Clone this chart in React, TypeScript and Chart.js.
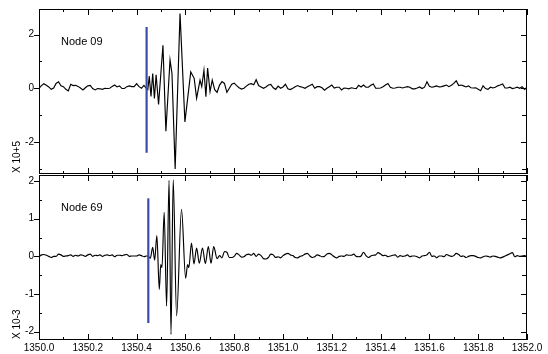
import React, { useEffect, useRef } from "react";
import { Chart, registerables } from "chart.js";

Chart.register(...registerables);

// ---------- axis definitions ----------
const X_MIN = 1350.0;
const X_MAX = 1352.0;
const xMajorTicks = [1350.0, 1350.2, 1350.4, 1350.6, 1350.8, 1351.0, 1351.2, 1351.4, 1351.6, 1351.8, 1352.0];
const xMajorLabels = ["1350.0", "1350.2", "1350.4", "1350.6", "1350.8", "1351.0", "1351.2", "1351.4", "1351.6", "1351.8", "1352.0"];
const xMinorTicks = [1350.1, 1350.3, 1350.5, 1350.7, 1350.9, 1351.1, 1351.3, 1351.5, 1351.7, 1351.9];

const TOP_Y_MIN = -3.19;
const TOP_Y_MAX = 2.95;
const topYMajor = [-2, 0, 2];
const topYMajorLabels = ["-2", "0", "2"];
const topYMinor = [-3, -1, 1];

const BOT_Y_MIN = -2.22;
const BOT_Y_MAX = 2.16;
const botYMajor = [-2, -1, 0, 1, 2];
const botYMajorLabels = ["-2", "-1", "0", "1", "2"];
const botYMinor = [-1.5, -0.5, 0.5, 1.5];

const topTitle = "Node 09";
const botTitle = "Node 69";
const topUnit = "X 10+5";
const botUnit = "X 10-3";

// ---------- data: Node 09 (top) ----------
const NOISE_STEP = 0.01;
const TOP_PRE_START = 1350.0;
const topPreNoise = [0, 0.10, 0.17, 0.11, 0.05, -0.04, 0.01, 0.18, 0.24, 0.09, 0.06, -0.04, -0.10, 0.15, 0.10, 0.11, 0.07, 0.01, -0.06, 0.02, 0.09, 0.11, -0.01, -0.06, -0.01, -0.02, -0.04, 0, -0.01, 0, 0.07, 0.12, 0.05, 0.09, -0.01, -0.01, 0.06, 0.09, 0.06, 0.06, 0.17, 0.06, 0, 0.11, 0];
const topBurstTimes = [1350.446, 1350.452, 1350.459, 1350.466, 1350.473, 1350.480, 1350.490, 1350.508, 1350.520, 1350.537, 1350.545, 1350.558, 1350.578, 1350.598, 1350.622, 1350.636, 1350.646, 1350.660, 1350.667, 1350.676, 1350.684, 1350.691, 1350.701, 1350.710];
const topBurstValues = [-0.05, 0.45, -0.30, 0.55, -0.38, 0.50, -0.60, 1.60, -1.60, 1.05, 0.55, -3.0, 2.78, -1.25, 0.61, 0.37, -0.37, 0.30, 0.06, 0.67, -0.31, 0.75, -0.12, 0.30];
const TOP_POST_START = 1350.72;
const topPostNoise = [
  -0.05, -0.15, 0.12, 0.25, 0.18, -0.15, 0, 0.15, 0.19, 0.10,
  0.02, -0.03, 0, 0.08, 0.15, 0.17, 0.13, 0.32, 0.10, 0.05,
  0, 0.05, 0.12, 0.14, 0.02, -0.04, 0.08, 0,
  0.05, 0.15, -0.02, -0.05, 0, 0.06, 0.10, 0.06, 0.04, 0, 0.06, 0.10, 0.15,
  0, 0.06, 0.06, 0.02, -0.07, 0, 0.06, 0.12, 0.01, 0.04,
  0.04, -0.06, 0.01, 0, -0.02, 0.02, 0, -0.01, 0.11, 0.05,
  0.12, 0.04, 0.04, 0.11, 0.16, 0, 0, 0.01, 0.06, 0.12,
  0.18, 0.04, 0, 0.01, 0.04, 0.04, 0.01, 0.04, 0.06, 0.04,
  -0.02, -0.02, 0.01, 0.05, -0.01, 0.04, 0.24, 0.07, 0.04, 0.06,
  0.09, 0.05, 0.06, 0.09, 0.12, 0.06, 0.11, 0.18, 0.28, 0.10,
  0.12, 0.09, 0.05, 0.09, 0.02, 0.01, 0.02, -0.04, -0.09, 0.09,
  -0.01, -0.04, 0.04, 0.01, 0.04, 0.09, 0.12, 0.16, 0.01, 0.01,
  0.04, -0.01, 0.01, 0.04, 0, 0.06, -0.04, 0.04,
];
const topMarkerTime = 1350.441;
const topMarkerRange = [-2.4, 2.28];

// ---------- data: Node 69 (bottom) ----------
const BOT_PRE_START = 1350.0;
const botPreNoise = [-0.01, 0.04, 0.05, 0.03, 0, -0.03, 0, 0, 0.06, 0.04, 0, 0.01, 0.02, 0.04, 0, 0.03, 0.01, 0.04, 0.03, 0, 0.04, 0.06, 0, 0.03, 0.02, 0.04, 0, 0.03, 0.04, 0.02, 0.04, -0.01, 0.03, 0.03, 0.02, 0.04, 0.05, 0, 0.01, 0.01, 0.01, 0.04, 0.02, -0.01, 0.01];
const botBurstTimes = [1350.448, 1350.456, 1350.466, 1350.474, 1350.483, 1350.493, 1350.499, 1350.504, 1350.513, 1350.523, 1350.533, 1350.541, 1350.550, 1350.564, 1350.584, 1350.601, 1350.609, 1350.614, 1350.625, 1350.635, 1350.646, 1350.657, 1350.670, 1350.682, 1350.694, 1350.705, 1350.716];
const botBurstValues = [0.0, -0.05, 0.24, -0.10, 0.55, -0.88, -0.22, -0.30, 1.17, -1.32, 2.02, -2.07, 2.03, -1.58, 1.25, -0.58, -0.22, -0.30, 0.35, -0.20, 0.22, -0.18, 0.22, -0.19, 0.26, -0.18, 0.26];
const BOT_POST_START = 1350.73;
const botPostNoise = [
  -0.06, 0.02, -0.04, 0.13, 0.11, -0.03, -0.03, 0, 0.08, 0.04,
  -0.02, -0.01, 0.04, 0.06, 0.03, 0.08, 0, 0.06, 0.02, -0.06,
  -0.07, -0.03, 0.06, 0.04, -0.03, -0.01, -0.04,
  0.02, 0.06, 0.08, 0.04, 0.02, -0.03, -0.04, 0, 0.02, 0.06, 0.08,
  0.01, -0.03, -0.01, 0.04, 0.02, -0.01, 0, 0.06, 0.08, 0.04,
  -0.01, -0.04, 0, 0.01, 0, 0.04, 0.03, 0.03, 0.06, 0,
  -0.01, 0.01, 0.11, 0.02, -0.03, 0.01, 0.03, 0.04, 0.10, 0.06,
  0.02, 0.03, -0.01, 0.01, 0.03, 0.04, -0.02, 0.02, 0, 0.01,
  0.04, -0.01, 0.01, 0.01, -0.01, -0.04, 0.01, 0.02, 0.04, 0.11,
  0, 0.01, -0.04, 0.01, 0.01, -0.01, 0.05, 0.02, 0, 0.02,
  0.08, 0.05, 0, 0.01, -0.03, 0, 0.02, 0.02, 0, -0.03,
  -0.04, -0.01, 0.01, 0, -0.02, 0.01, 0, -0.02, -0.04, -0.02,
  0.01, 0.04, 0.07, 0.10, -0.01, 0.02, 0, 0.01, 0.02, -0.01,
];
const botMarkerTime = 1350.448;
const botMarkerRange = [-1.77, 1.54];

// ---------- helpers ----------
type Pt = { x: number; y: number };
function gridPoints(start: number, values: number[]): Pt[] {
  return values.map((v, i) => ({ x: Math.round((start + i * NOISE_STEP) * 1000) / 1000, y: v }));
}
function pairPoints(times: number[], values: number[]): Pt[] {
  return times.map((t, i) => ({ x: t, y: values[i] }));
}

const BLUE = "rgb(58, 78, 168)";
const FONT = "'Liberation Sans', Arial, Helvetica, sans-serif";

type FrameCfg = {
  yMajor: number[];
  yMajorLabels: string[];
  yMinor: number[];
  title: string;
  unit: string;
  showXLabels: boolean;
};

function makeFramePlugin(cfg: FrameCfg) {
  return {
    id: "frame",
    afterDraw(chart: any) {
      const { ctx, chartArea: a, scales } = chart;
      const xs = scales.x;
      const ys = scales.y;
      ctx.save();
      ctx.strokeStyle = "#000";
      ctx.lineWidth = 1;
      ctx.strokeRect(a.left + 0.5, a.top + 0.5, a.right - a.left - 1, a.bottom - a.top - 1);

      ctx.beginPath();
      const xt = (v: number, len: number) => {
        const px = Math.round(xs.getPixelForValue(v)) + 0.5;
        ctx.moveTo(px, a.top);
        ctx.lineTo(px, a.top + len);
        ctx.moveTo(px, a.bottom);
        ctx.lineTo(px, a.bottom - len);
      };
      xMajorTicks.forEach((v) => xt(v, 6));
      xMinorTicks.forEach((v) => xt(v, 3));
      cfg.yMajor.forEach((v) => {
        const py = Math.round(ys.getPixelForValue(v)) + 0.5;
        ctx.moveTo(a.left - 5, py);
        ctx.lineTo(a.left, py);
        ctx.moveTo(a.right, py);
        ctx.lineTo(a.right - 6, py);
      });
      cfg.yMinor.forEach((v) => {
        const py = Math.round(ys.getPixelForValue(v)) + 0.5;
        ctx.moveTo(a.left, py);
        ctx.lineTo(a.left + 3, py);
        ctx.moveTo(a.right, py);
        ctx.lineTo(a.right - 5, py);
      });
      ctx.stroke();

      ctx.fillStyle = "#000";
      ctx.font = `10px ${FONT}`;
      ctx.textAlign = "right";
      ctx.textBaseline = "middle";
      cfg.yMajor.forEach((v, i) => {
        ctx.fillText(cfg.yMajorLabels[i], a.left - 5, ys.getPixelForValue(v));
      });

      if (cfg.showXLabels) {
        ctx.textAlign = "center";
        ctx.textBaseline = "top";
        xMajorTicks.forEach((v, i) => {
          ctx.fillText(xMajorLabels[i], xs.getPixelForValue(v), a.bottom + 3);
        });
      }

      // panel title
      ctx.font = `11px ${FONT}`;
      ctx.textAlign = "left";
      ctx.textBaseline = "alphabetic";
      ctx.fillText(cfg.title, a.left + 22, a.top + 36);

      // unit label (rotated)
      ctx.font = `10px ${FONT}`;
      ctx.save();
      ctx.translate(20, a.bottom - 1);
      ctx.rotate(-Math.PI / 2);
      ctx.textAlign = "left";
      ctx.textBaseline = "alphabetic";
      ctx.fillText(cfg.unit, 0, 0);
      ctx.restore();

      ctx.restore();
    },
  };
}

function buildConfig(
  signal: Pt[],
  marker: Pt[],
  yMin: number,
  yMax: number,
  padding: { left: number; right: number; top: number; bottom: number },
  smooth: boolean,
  frame: FrameCfg
): any {
  return {
    type: "line",
    data: {
      datasets: [
        {
          data: marker,
          borderColor: BLUE,
          borderWidth: 2.2,
          pointRadius: 0,
          fill: false,
          order: 0,
        },
        {
          data: signal,
          borderColor: "#000",
          borderWidth: 1.15,
          pointRadius: 0,
          fill: false,
          tension: 0,
          cubicInterpolationMode: smooth ? "monotone" : "default",
          order: 1,
        },
      ],
    },
    options: {
      animation: false,
      responsive: false,
      devicePixelRatio: 1,
      events: [],
      layout: { padding },
      scales: {
        x: { type: "linear", min: X_MIN, max: X_MAX, display: false },
        y: { type: "linear", min: yMin, max: yMax, display: false },
      },
      plugins: { legend: { display: false }, tooltip: { enabled: false } },
    },
    plugins: [makeFramePlugin(frame)],
  };
}

export default function App() {
  const topRef = useRef<HTMLCanvasElement>(null);
  const botRef = useRef<HTMLCanvasElement>(null);

  useEffect(() => {
    const topSignal = [
      ...gridPoints(TOP_PRE_START, topPreNoise),
      ...pairPoints(topBurstTimes, topBurstValues),
      ...gridPoints(TOP_POST_START, topPostNoise),
    ];
    const botSignal = [
      ...gridPoints(BOT_PRE_START, botPreNoise),
      ...pairPoints(botBurstTimes, botBurstValues),
      ...gridPoints(BOT_POST_START, botPostNoise),
    ];
    const topMarker = topMarkerRange.map((y) => ({ x: topMarkerTime, y }));
    const botMarker = botMarkerRange.map((y) => ({ x: botMarkerTime, y }));

    const top = new Chart(
      topRef.current!,
      buildConfig(topSignal, topMarker, TOP_Y_MIN, TOP_Y_MAX, { left: 39, right: 21, top: 9, bottom: 180 }, false, {
        yMajor: topYMajor,
        yMajorLabels: topYMajorLabels,
        yMinor: topYMinor,
        title: topTitle,
        unit: topUnit,
        showXLabels: false,
      })
    );
    const bot = new Chart(
      botRef.current!,
      buildConfig(botSignal, botMarker, BOT_Y_MIN, BOT_Y_MAX, { left: 39, right: 21, top: 175, bottom: 14 }, true, {
        yMajor: botYMajor,
        yMajorLabels: botYMajorLabels,
        yMinor: botYMinor,
        title: botTitle,
        unit: botUnit,
        showXLabels: true,
      })
    );
    return () => {
      top.destroy();
      bot.destroy();
    };
  }, []);

  return (
    <div style={{ position: "fixed", left: 0, top: 0, width: 548, height: 354, background: "#fff" }}>
      <canvas ref={topRef} width={548} height={354} style={{ position: "absolute", left: 0, top: 0 }} />
      <canvas ref={botRef} width={548} height={354} style={{ position: "absolute", left: 0, top: 0 }} />
    </div>
  );
}
